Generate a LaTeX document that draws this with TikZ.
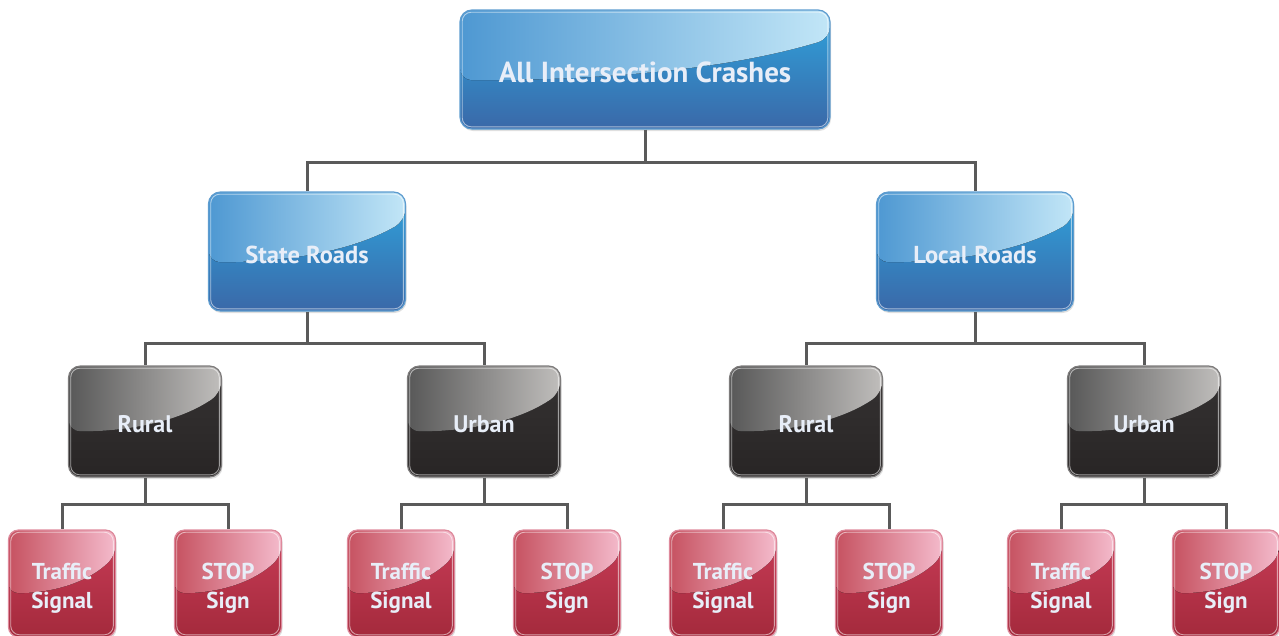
\documentclass[tikz,border=0pt]{standalone}
\usepackage{fontspec}
\setmainfont{PT Sans}
\usetikzlibrary{calc,shadows}
\definecolor{txt}{HTML}{E8EEF8}
\definecolor{linec}{HTML}{5A5A5A}
\definecolor{bTop}{HTML}{2FA4DD}\definecolor{bBot}{HTML}{3A68A8}
\definecolor{bGl}{HTML}{4E98D2}\definecolor{bGr}{HTML}{C2E6F7}
\definecolor{bEdge}{HTML}{5E9CCF}
\definecolor{gTop}{HTML}{363333}\definecolor{gBot}{HTML}{282525}
\definecolor{gGl}{HTML}{585858}\definecolor{gGr}{HTML}{C0BEBC}
\definecolor{gEdge}{HTML}{7E7C7C}
\definecolor{rTop}{HTML}{C83C57}\definecolor{rBot}{HTML}{A42A3C}
\definecolor{rGl}{HTML}{C65261}\definecolor{rGr}{HTML}{F4BACB}
\definecolor{rEdge}{HTML}{DE8A9C}
\newcommand\lowr[2]{\raisebox{-#1}[\height][\depth]{#2}}
\newcommand\twol[2]{\lowr{5pt}{\begin{tabular}{@{}c@{}}#1\\#2\end{tabular}}}
\tikzset{
  gloss/.style n args={2}{path picture={
    \fill[left color=#1,right color=#2]
      let \p1=(path picture bounding box.south west),
          \p2=(path picture bounding box.north east) in
      (\x1,\y2) -- (\x2,\y2) -- (\x2,{\y1+0.76*(\y2-\y1)})
      .. controls ({\x1+0.68*(\x2-\x1)},{\y1+0.46*(\y2-\y1)})
         and ({\x1+0.3*(\x2-\x1)},{\y1+0.41*(\y2-\y1)})
      .. (\x1,{\y1+0.41*(\y2-\y1)}) -- cycle;
    \draw[white,opacity=0.55,line width=0.9pt,rounded corners=9pt]
      ([shift={(2.2pt,2.2pt)}]path picture bounding box.south west) rectangle
      ([shift={(-2.2pt,-2.2pt)}]path picture bounding box.north east);}},
  boxbase/.style={rectangle,line width=1.2pt,text=txt,align=center,
    inner sep=0pt,
    drop shadow={opacity=0.25,shadow xshift=1pt,shadow yshift=-2pt}},
  topbox/.style={boxbase,rounded corners=12pt,minimum width=370pt,minimum height=119pt,
    top color=bTop,bottom color=bBot,draw=bEdge,gloss={bGl}{bGr},font=\bfseries\fontsize{29}{32}\selectfont},
  bluebox/.style={boxbase,rounded corners=12pt,minimum width=197pt,minimum height=119pt,
    top color=bTop,bottom color=bBot,draw=bEdge,gloss={bGl}{bGr},font=\bfseries\fontsize{24.5}{28}\selectfont},
  graybox/.style={boxbase,rounded corners=12pt,minimum width=153pt,minimum height=111pt,
    top color=gTop,bottom color=gBot,draw=gEdge,gloss={gGl}{gGr},font=\bfseries\fontsize{24}{28}\selectfont},
  redbox/.style={boxbase,rounded corners=10pt,minimum width=107pt,minimum height=107pt,
    top color=rTop,bottom color=rBot,draw=rEdge,gloss={rGl}{rGr},font=\bfseries\fontsize{23}{29}\selectfont},
  conn/.style={draw=linec,line width=3pt}
}
\begin{document}
\begin{tikzpicture}[x=1pt,y=-1pt]
\useasboundingbox (0,0) rectangle (1279,635);
% top
\node[topbox] (all) at (645,69.5) {\lowr{3pt}{All Intersection Crashes}};
% level 2
\node[bluebox] (state) at (307,251.5) {\lowr{3pt}{State Roads}};
\node[bluebox] (local) at (975,251.5) {\lowr{3pt}{Local Roads}};
% level 3
\node[graybox] (sr) at (145,421.5) {\lowr{2.5pt}{Rural}};
\node[graybox] (su) at (484,421.5) {\lowr{2.5pt}{Urban}};
\node[graybox] (lr) at (806,421.5) {\lowr{2.5pt}{Rural}};
\node[graybox] (lu) at (1144,421.5) {\lowr{2.5pt}{Urban}};
% level 4
\node[redbox] (srt) at (62,583.5) {\twol{Traffic}{Signal}};
\node[redbox] (srs) at (228,583.5) {\twol{STOP}{Sign}};
\node[redbox] (sut) at (401,583.5) {\twol{Traffic}{Signal}};
\node[redbox] (sus) at (567,583.5) {\twol{STOP}{Sign}};
\node[redbox] (lrt) at (723,583.5) {\twol{Traffic}{Signal}};
\node[redbox] (lrs) at (889,583.5) {\twol{STOP}{Sign}};
\node[redbox] (lut) at (1061,583.5) {\twol{Traffic}{Signal}};
\node[redbox] (lus) at (1226,583.5) {\twol{STOP}{Sign}};
% junctions
\coordinate (j0) at (645,162);
\coordinate (j1) at (307,343);
\coordinate (j2) at (975,343);
\coordinate (k1) at (145,504);
\coordinate (k2) at (484,504);
\coordinate (k3) at (806,504);
\coordinate (k4) at (1144,504);
% connectors
\draw[conn] (all.south) -- (j0);
\draw[conn] (j0) -| (state.north);
\draw[conn] (j0) -| (local.north);
\draw[conn] (state.south) -- (j1);
\draw[conn] (j1) -| (sr.north);
\draw[conn] (j1) -| (su.north);
\draw[conn] (local.south) -- (j2);
\draw[conn] (j2) -| (lr.north);
\draw[conn] (j2) -| (lu.north);
\draw[conn] (sr.south) -- (k1);
\draw[conn] (k1) -| (srt.north);
\draw[conn] (k1) -| (srs.north);
\draw[conn] (su.south) -- (k2);
\draw[conn] (k2) -| (sut.north);
\draw[conn] (k2) -| (sus.north);
\draw[conn] (lr.south) -- (k3);
\draw[conn] (k3) -| (lrt.north);
\draw[conn] (k3) -| (lrs.north);
\draw[conn] (lu.south) -- (k4);
\draw[conn] (k4) -| (lut.north);
\draw[conn] (k4) -| (lus.north);
\end{tikzpicture}
\end{document}
